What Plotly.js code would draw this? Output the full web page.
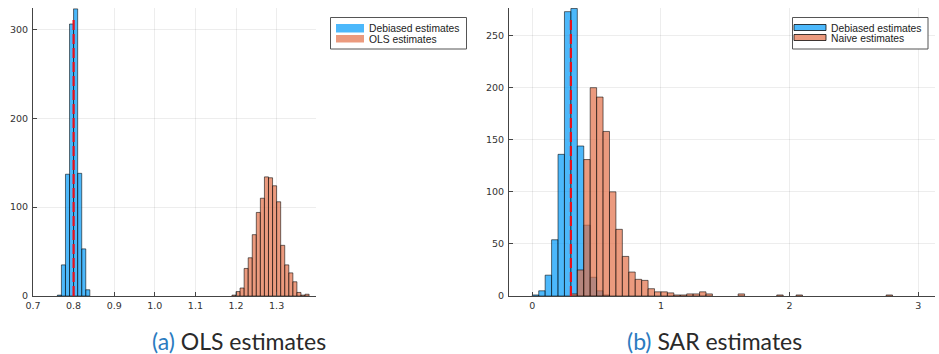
<!DOCTYPE html>
<html>
<head>
<meta charset="utf-8">
<script src="https://cdn.plot.ly/plotly-3.0.1.min.js"></script>
<style>html,body{margin:0;padding:0;background:#fff;}#chart{width:939px;height:354px;}</style>
</head>
<body>
<div id="chart"></div>
<script>
// ---- Data ----
// (a) OLS panel: histogram bin left edges (width 0.01) and counts
const olsDebiasedEdges = [0.76, 0.77, 0.78, 0.79, 0.80, 0.81, 0.82, 0.83];
const olsDebiasedCounts = [1, 35, 137, 306, 323, 138, 53, 7];
const olsNaiveEdges = [1.19, 1.20, 1.21, 1.22, 1.23, 1.24, 1.25, 1.26, 1.27, 1.28, 1.29, 1.30, 1.31, 1.32, 1.33, 1.34, 1.35, 1.36, 1.37];
const olsNaiveCounts = [1, 5, 9, 31, 43, 69, 94, 110, 134, 133, 124, 106, 57, 35, 26, 16, 4, 1, 2];
const olsTrueValue = 0.8;
const olsBinWidth = 0.01;

// (b) SAR panel: histogram bin left edges (width 0.05) and counts
const sarDebiasedEdges = [0.00, 0.05, 0.10, 0.15, 0.20, 0.25, 0.30, 0.35, 0.40, 0.45, 0.50, 0.55];
const sarDebiasedCounts = [1, 5, 20, 54, 136, 273, 276, 144, 68, 18, 5, 1];
const sarNaiveEdges = [0.30, 0.35, 0.40, 0.45, 0.50, 0.55, 0.60, 0.65, 0.70, 0.75, 0.80, 0.85, 0.90, 0.95, 1.00, 1.05, 1.10, 1.15, 1.20, 1.25, 1.30, 1.35, 1.60, 1.90, 2.05, 2.75];
const sarNaiveCounts = [2, 25, 131, 200, 191, 158, 100, 64, 38, 23, 16, 15, 7, 4, 4, 3, 1, 1, 2, 2, 4, 2, 2, 1, 1, 1];
const sarTrueValue = 0.3;
const sarBinWidth = 0.05;

const olsXTicks = [0.7, 0.8, 0.9, 1.0, 1.1, 1.2, 1.3];
const olsXTickText = ['0.7', '0.8', '0.9', '1.0', '1.1', '1.2', '1.3'];
const olsYTicks = [0, 100, 200, 300];
const sarXTicks = [0, 1, 2, 3];
const sarYTicks = [0, 50, 100, 150, 200, 250];

const labels = {
  debiased: 'Debiased estimates',
  olsNaive: 'OLS estimates',
  sarNaive: 'Naive estimates',
  capA: 'OLS estimates',
  capB: 'SAR estimates'
};

// ---- Styling ----
const blue = 'rgba(0,154,250,0.7)';
const orange = 'rgba(227,111,71,0.7)';
const barLine = {color: 'rgba(0,0,0,0.7)', width: 0.8};
const W = 939, H = 354;
const px = v => v / W;
const py = v => 1 - v / H;

function bars(edges, counts, width, color, xa, ya) {
  return {
    type: 'bar', x: edges, y: counts, width: width, offset: 0,
    marker: {color: color, line: barLine},
    xaxis: xa, yaxis: ya, showlegend: false, hoverinfo: 'skip'
  };
}

const traces = [
  bars(olsDebiasedEdges, olsDebiasedCounts, olsBinWidth, blue, 'x', 'y'),
  bars(olsNaiveEdges, olsNaiveCounts, olsBinWidth, orange, 'x', 'y'),
  bars(sarDebiasedEdges, sarDebiasedCounts, sarBinWidth, blue, 'x2', 'y2'),
  bars(sarNaiveEdges, sarNaiveCounts, sarBinWidth, orange, 'x2', 'y2')
];

const tickFont = {family: 'DejaVu Sans, sans-serif', size: 9.5, color: '#333'};
const axisCommon = {
  showline: true, linecolor: '#444', linewidth: 1,
  showgrid: true, gridcolor: 'rgba(0,0,0,0.07)', gridwidth: 1,
  zeroline: false, ticks: 'inside', ticklen: 4, tickcolor: '#444',
  tickfont: tickFont, fixedrange: true
};
const yBottom = 1 - 296 / H, yTop = 1 - 8 / H;

// ---- Hand-drawn legends (tight rows like the reference) ----
const legendFont = {family: 'Liberation Sans, Arial, sans-serif', size: 10.3, color: '#222'};
function legendBox(x0, x1, y0, y1) {
  return {type: 'rect', xref: 'paper', yref: 'paper', x0: px(x0), x1: px(x1), y0: py(y1), y1: py(y0),
          line: {color: '#555', width: 1}, fillcolor: '#fff', layer: 'above'};
}
function swatch(x0, x1, y0, y1, color, border) {
  return {type: 'rect', xref: 'paper', yref: 'paper', x0: px(x0), x1: px(x1), y0: py(y1), y1: py(y0),
          line: {color: border ? 'rgba(0,0,0,0.75)' : 'rgba(0,0,0,0)', width: border ? 1 : 0},
          fillcolor: color, layer: 'above'};
}
function legendText(x, y, text) {
  return {xref: 'paper', yref: 'paper', x: px(x), y: py(y), xanchor: 'left', yanchor: 'middle',
          showarrow: false, text: text, font: legendFont};
}

const shapes = [
  {type: 'line', xref: 'x', yref: 'y domain', x0: olsTrueValue, x1: olsTrueValue, y0: 0, y1: 0.97,
   line: {color: '#e8101a', width: 2.2, dash: '10px,4px'}, layer: 'above'},
  {type: 'line', xref: 'x2', yref: 'y2 domain', x0: sarTrueValue, x1: sarTrueValue, y0: 0, y1: 0.97,
   line: {color: '#e8101a', width: 2.2, dash: '10px,4px'}, layer: 'above'},
  legendBox(330.5, 466.5, 17.5, 49),
  swatch(336, 364, 24, 32.5, blue, false),
  swatch(336, 364, 35, 42.5, orange, false),
  legendBox(792.5, 928, 17.5, 49),
  swatch(794, 826, 24.5, 30.5, blue, true),
  swatch(794, 826, 34.5, 40.5, orange, true)
];

const annotations = [
  legendText(367, 28, labels.debiased),
  legendText(367, 39, labels.olsNaive),
  legendText(829, 28, labels.debiased),
  legendText(829, 38.5, labels.sarNaive),
  {xref: 'paper', yref: 'paper', x: px(239), y: py(341), xanchor: 'center', yanchor: 'middle', showarrow: false,
   text: '<span style="color:#2b7bbf">(a)</span> ' + labels.capA,
   font: {family: 'Lato, sans-serif', size: 23, color: '#2a2a2a'}},
  {xref: 'paper', yref: 'paper', x: px(714), y: py(341), xanchor: 'center', yanchor: 'middle', showarrow: false,
   text: '<span style="color:#2b7bbf">(b)</span> ' + labels.capB,
   font: {family: 'Lato, sans-serif', size: 23, color: '#2a2a2a'}}
];

const layout = {
  width: W, height: H,
  margin: {l: 0, r: 0, t: 0, b: 0},
  paper_bgcolor: '#fff', plot_bgcolor: '#fff',
  barmode: 'overlay', bargap: 0, showlegend: false,
  xaxis: Object.assign({}, axisCommon, {
    domain: [px(33), px(316)], range: [0.7, 1.397],
    tickvals: olsXTicks, ticktext: olsXTickText, anchor: 'y', ticklabelstandoff: 1
  }),
  yaxis: Object.assign({}, axisCommon, {
    domain: [yBottom, yTop], range: [0, 324], tickvals: olsYTicks, anchor: 'x', ticklabelstandoff: 2
  }),
  xaxis2: Object.assign({}, axisCommon, {
    domain: [px(509), px(935)], range: [-0.181, 3.13], tickvals: sarXTicks, anchor: 'y2', ticklabelstandoff: 1
  }),
  yaxis2: Object.assign({}, axisCommon, {
    domain: [yBottom, yTop], range: [0, 276.5], tickvals: sarYTicks, anchor: 'x2', ticklabelstandoff: 2
  }),
  shapes: shapes,
  annotations: annotations
};

Plotly.newPlot('chart', traces, layout, {displayModeBar: false, staticPlot: true});
</script>
</body>
</html>
